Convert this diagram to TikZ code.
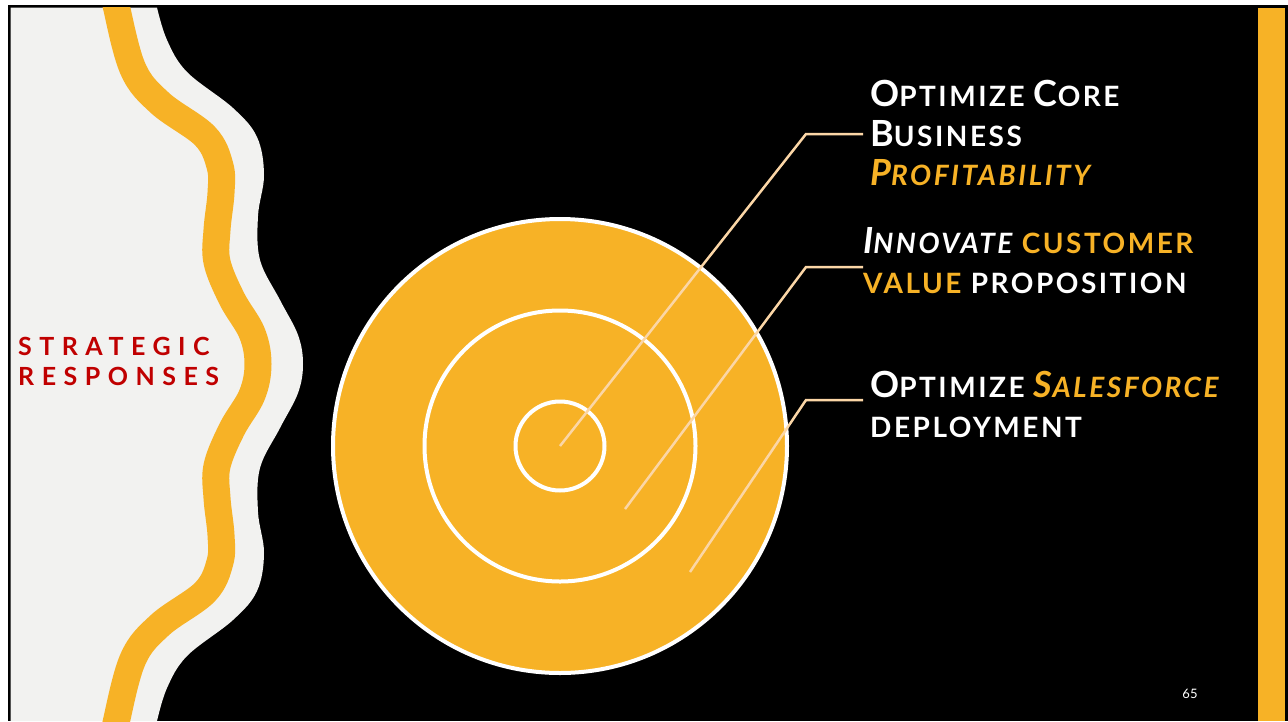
\documentclass[tikz,border=0pt]{standalone}
\usepackage{fontspec}
\setmainfont{Lato}
\newfontfamily\spacedfont[LetterSpace=30]{Lato}
\newfontfamily\headfont[LetterSpace=9]{Lato}
\definecolor{amber}{RGB}{247,178,38}
\definecolor{paper}{RGB}{242,242,240}
\definecolor{peach}{RGB}{251,214,166}
\definecolor{deepred}{RGB}{192,0,0}
% fake small caps: larger initial letter
\newcommand\initial[1]{{\fontsize{36}{40}\selectfont #1}}
\tikzset{
  ring/.style={circle, fill=amber, draw=white, line width=4pt, inner sep=0pt},
  leader/.style={draw=peach, line width=2.5pt},
  headline/.style={anchor=base west, inner sep=0pt, text=white,
    font=\headfont\bfseries\fontsize{28}{34}\selectfont},
  sidetitle/.style={anchor=base west, inner sep=0pt, text=deepred,
    font=\spacedfont\bfseries\fontsize{25}{30}\selectfont},
}
\begin{document}
\begin{tikzpicture}[x=1pt,y=-1pt]
\useasboundingbox (0,0) rectangle (1288,721);
% page and slide background
\fill[white] (0,0) rectangle (1288,721);
\fill[black] (8,5) rectangle (1288,721);
% light panel with wavy right edge
\fill[paper] (10.5,7.5) -- (157,7.5)
  -- plot[smooth, tension=0.6] coordinates {(157,7.5) (167,40) (187,72) (233,108) (257,137) (264,175) (258,216) (260,260) (280,300) (298,335) (303,364) (298,393) (280,428) (260,468) (258,512) (264,553) (257,591) (233,620) (187,656) (167,688) (157,721)}
  -- (10.5,721) -- cycle;
% amber wave
\begin{scope}
\clip (10.5,7.5) rectangle (1288,721);
\draw[amber, line width=27pt] plot[smooth, tension=0.6] coordinates {(114,-10) (116,5) (133,69) (160,103) (205,136) (220,166) (221,193) (217,230) (217,262) (232,299) (252,333) (258,364) (252,395) (232,429) (217,466) (217,498) (221,535) (220,562) (205,592) (160,625) (133,659) (116,723) (114,740)};
\end{scope}
% right accent bar
\fill[amber] (1258,7.5) rectangle (1285,721);
% concentric rings
\node[ring, minimum size=454pt] (outer) at (560,446) {};
\node[ring, minimum size=271pt] (middle) at (560,446) {};
\node[ring, minimum size=89pt] (inner) at (560,446) {};
% leader lines
\coordinate (s1) at (560,446);
\coordinate (s2) at (625,509);
\coordinate (s3) at (690,572);
\coordinate (k1) at (806,134);
\coordinate (k2) at (806,267);
\coordinate (k3) at (806,400);
\coordinate (e1) at (863,134);
\coordinate (e2) at (863,267);
\coordinate (e3) at (863,400);
\draw[leader] (s1) -- (k1) -- (e1);
\draw[leader] (s2) -- (k2) -- (e2);
\draw[leader] (s3) -- (k3) -- (e3);
% labels
\node[headline] (a1) at (870,106) {\initial{O}PTIMIZE \initial{C}ORE};
\node[headline] (a2) at (870,146) {\initial{B}USINESS};
\node[headline, text=amber] (a3) at (870,185) {\itshape\initial{P}ROFITABILITY};
\node[headline] (b1) at (863,253) {{\itshape\initial{I}NNOVATE} \textcolor{amber}{CUSTOMER}};
\node[headline] (b2) at (863,293) {\textcolor{amber}{VALUE} PROPOSITION};
\node[headline] (c1) at (870,397) {\initial{O}PTIMIZE \textcolor{amber}{\itshape\initial{S}ALESFORCE}};
\node[headline] (c2) at (870,437) {DEPLOYMENT};
\node[sidetitle] (side1) at (18,355) {STRATEGIC};
\node[sidetitle] (side2) at (18,385) {RESPONSES};
\node[anchor=base, inner sep=0pt, text=white, font=\fontsize{13}{15}\selectfont] (pg) at (1190,698) {65};
\end{tikzpicture}
\end{document}
